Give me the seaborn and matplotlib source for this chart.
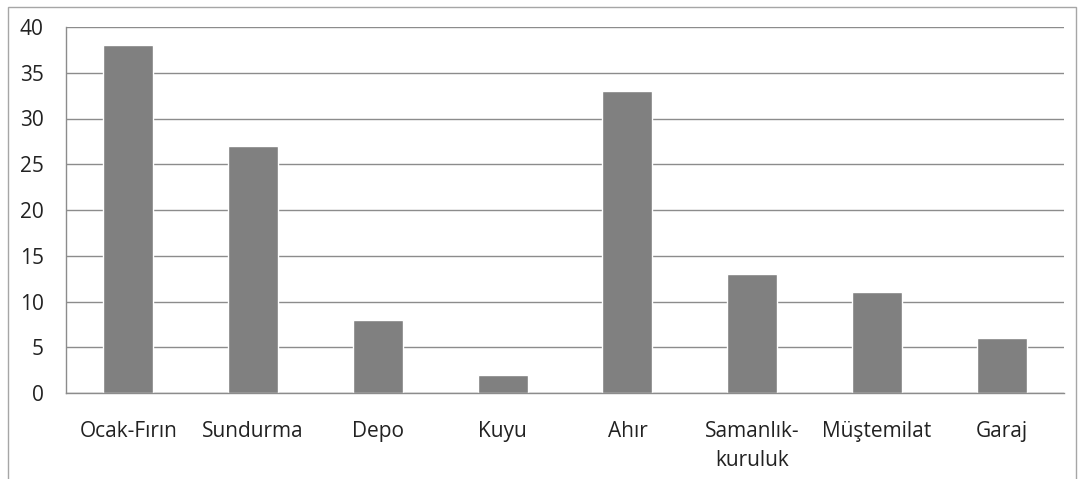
import matplotlib
matplotlib.use("Agg")
import matplotlib.pyplot as plt
import seaborn as sns
import pandas as pd
from matplotlib.patches import Rectangle

categories = ["Ocak-Fırın", "Sundurma", "Depo", "Kuyu", "Ahır", "Samanlık-\nkuruluk", "Müştemilat", "Garaj"]
values = [38, 27, 8, 2, 33, 13, 11, 6]
yticks = [0, 5, 10, 15, 20, 25, 30, 35, 40]

sns.set_theme(style="white")
plt.rcParams['font.family'] = ['Open Sans', 'DejaVu Sans']

df = pd.DataFrame({"cat": categories, "val": values})

fig = plt.figure(figsize=(10.85, 4.79), dpi=100)
ax = fig.add_axes([66/1085, 1-393/479, (1064-66)/1085, (393-27)/479])

sns.barplot(data=df, x="cat", y="val", color="#808080", width=0.4, saturation=1, ax=ax)

grid_c = "#8c8c8c"
ax.set_ylim(0, 40)
ax.set_xlim(-0.5, len(categories) - 0.5)
ax.set_yticks(yticks)
ax.set_yticklabels([str(v) for v in yticks], fontsize=15, color="#222222")
ax.yaxis.grid(True, color=grid_c, linewidth=1)
ax.set_axisbelow(True)
ax.set_xlabel("")
ax.set_ylabel("")

ax.tick_params(axis="x", which="major", length=0, pad=20, labelsize=15, labelcolor="#222222")
for lbl in ax.get_xticklabels():
    lbl.set_linespacing(1.5)
ax.set_xticks([-0.5, 1.5, 3.5, 5.5, 7.5], minor=True)
ax.tick_params(axis="x", which="minor", length=8, color=grid_c, width=1, direction="out")
ax.tick_params(axis="y", length=8, color=grid_c, width=1, direction="out", pad=8)

for s in ["top", "right"]:
    ax.spines[s].set_visible(False)
for s in ["left", "bottom"]:
    ax.spines[s].set_color(grid_c)
    ax.spines[s].set_linewidth(1)

fig.patches.append(Rectangle((8/1085, -0.05), (1076-8)/1085, 1.05 - 7/479,
                             transform=fig.transFigure, fill=False,
                             edgecolor="#a6a6a6", linewidth=1))

fig.savefig("out.png", dpi=100)
